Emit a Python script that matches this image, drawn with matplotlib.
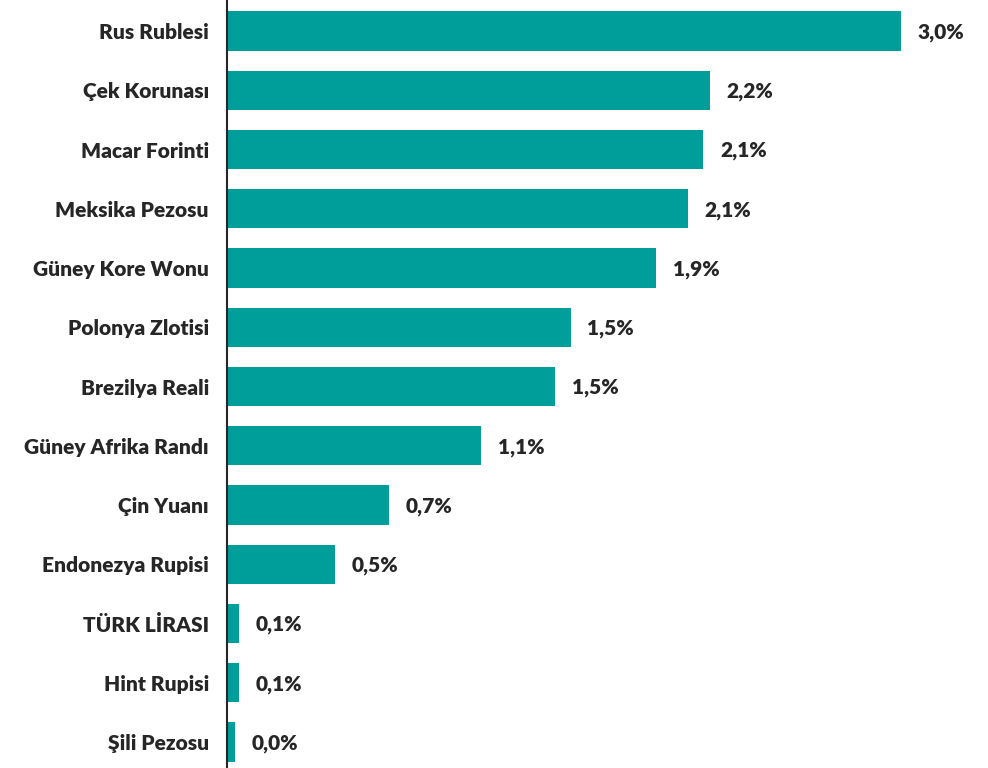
import matplotlib
matplotlib.use("Agg")
import matplotlib.pyplot as plt

# Currency values (percent)
currencies = ["Rus Rublesi", "Çek Korunası", "Macar Forinti", "Meksika Pezosu",
              "Güney Kore Wonu", "Polonya Zlotisi", "Brezilya Reali",
              "Güney Afrika Randı", "Çin Yuanı", "Endonezya Rupisi",
              "TÜRK LİRASI", "Hint Rupisi", "Şili Pezosu"]
values = [3.0, 2.15, 2.12, 2.05, 1.91, 1.53, 1.46, 1.13, 0.72, 0.48, 0.053, 0.053, 0.036]
value_labels = ["3,0%", "2,2%", "2,1%", "2,1%", "1,9%", "1,5%", "1,5%",
                "1,1%", "0,7%", "0,5%", "0,1%", "0,1%", "0,0%"]

bar_color = "#009E9A"
text_color = "#262626"

plt.rcParams['font.family'] = ['Lato', 'DejaVu Sans']

fig = plt.figure(figsize=(9.88, 7.68), dpi=100)
ax = fig.add_axes([227 / 988, 0, 761 / 988, 1])

ypos = list(range(len(currencies)))
ax.barh(ypos, values, height=0.66, color=bar_color)

ax.set_xlim(0, 3.0 * 761 / 674)
ax.set_ylim(12 + 26 / 59.25, -31 / 59.25)

# value labels right of bars
for y, v, lab in zip(ypos, values, value_labels):
    ax.annotate(lab, (v, y), xytext=(12, -1), textcoords="offset points",
                va="center", ha="left", fontsize=15, fontweight="heavy",
                color=text_color)

ax.set_yticks(ypos)
ax.set_yticklabels(currencies, fontsize=15, fontweight="heavy", color=text_color)
ax.tick_params(axis="y", length=0, pad=13)
ax.set_xticks([])

for s in ["top", "right", "bottom"]:
    ax.spines[s].set_visible(False)
ax.spines["left"].set_color(text_color)
ax.spines["left"].set_linewidth(1.5)

fig.savefig("out.png", dpi=100)
